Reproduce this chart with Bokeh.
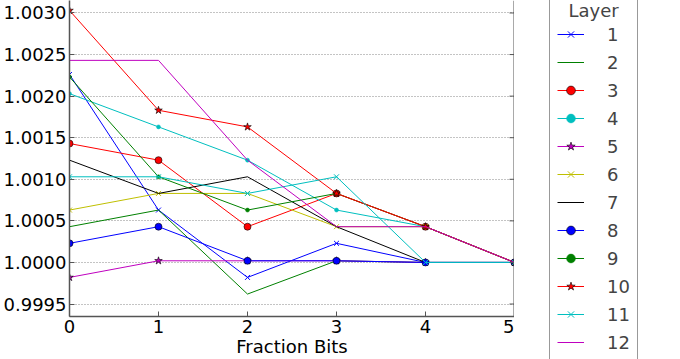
from bokeh.plotting import figure
from bokeh.layouts import row
from bokeh.models import (Range1d, FixedTicker, PrintfTickFormatter,
                          Legend, LegendItem, Span)
from bokeh.embed import file_html
from bokeh.resources import INLINE

# ---- data ----
fraction_bits = [0, 1, 2, 3, 4, 5]
layer_1 = [1.00226, 1.00063, 0.99982, 1.00023, 1.00000, 1.00000]
layer_2 = [1.00043, 1.00063, 0.99962, 1.00002, 1.00000, 1.00000]
layer_3 = [1.00143, 1.00123, 1.00043, 1.00083, 1.00043, 1.00000]
layer_4 = [1.00203, 1.00163, 1.00123, 1.00063, 1.00043, 1.00000]
layer_5 = [0.99982, 1.00002, 1.00002, 1.00002, 1.00000, 1.00000]
layer_6 = [1.00063, 1.00083, 1.00083, 1.00043, 1.00043, 1.00000]
layer_7 = [1.00123, 1.00083, 1.00103, 1.00043, 1.00000, 1.00000]
layer_8 = [1.00023, 1.00043, 1.00002, 1.00002, 1.00000, 1.00000]
layer_9 = [1.00223, 1.00103, 1.00063, 1.00083, 1.00043, 1.00000]
layer_10 = [1.00303, 1.00183, 1.00163, 1.00083, 1.00043, 1.00000]
layer_11 = [1.00103, 1.00103, 1.00083, 1.00103, 1.00000, 1.00000]
layer_12 = [1.00243, 1.00243, 1.00123, 1.00043, 1.00043, 1.00000]
layer_names = ["1", "2", "3", "4", "5", "6", "7", "8", "9", "10", "11", "12"]
y_ticks = [0.9995, 1.0000, 1.0005, 1.0010, 1.0015, 1.0020, 1.0025, 1.0030]
x_ticks = [0, 1, 2, 3, 4, 5]

series = [layer_1, layer_2, layer_3, layer_4, layer_5, layer_6,
          layer_7, layer_8, layer_9, layer_10, layer_11, layer_12]

# ---- styles ----
cycle = ["#0000ff", "#008000", "#ff0000", "#00bfbf", "#bf00bf", "#bfbf00", "#000000"]
markers = ["x", None, "circle", "dot", "star", "x", None, "circle", "dot", "star", "x", None]
FONT = "DejaVu Sans"
FS = "18px"
SPINE = "#555555"


def draw(fig, i, xs, ys):
    c = cycle[i % len(cycle)]
    rs = [fig.line(xs, ys, line_color=c, line_width=1)]
    m = markers[i]
    if m == "x":
        rs.append(fig.scatter(xs, ys, marker="x", size=7, line_color=c, line_width=1))
    elif m == "circle":
        rs.append(fig.scatter(xs, ys, marker="circle", size=7, fill_color=c,
                              line_color="black", line_width=0.6))
    elif m == "dot":
        rs.append(fig.scatter(xs, ys, marker="circle", size=4, fill_color=c,
                              line_color=c, line_width=0.5))
    elif m == "star":
        rs.append(fig.scatter(xs, ys, marker="star", size=8, fill_color=c,
                              line_color="black", line_width=0.6))
    return rs


# ---- main plot ----
p = figure(width=514, height=359, output_backend="svg", toolbar_location=None,
           x_range=Range1d(0, 5), y_range=Range1d(0.99935, 1.00315),
           min_border_top=0, min_border_bottom=0, min_border_right=0,
           min_border_left=68,
           background_fill_color="white", border_fill_color="white")
p.frame_align = False
p.outline_line_color = None
p.xgrid.visible = False
p.ygrid.ticker = FixedTicker(ticks=y_ticks)
p.ygrid.grid_line_color = "#888888"
p.ygrid.grid_line_dash = "1 2"
p.ygrid.grid_line_width = 1

for i, vals in enumerate(series):
    draw(p, i, fraction_bits, vals)

# right spine with inward ticks (half-dashes clipped at the frame edge)
p.add_layout(Span(location=x_ticks[-1], dimension="height",
                  line_color=SPINE, line_width=2))
p.scatter([x_ticks[-1]] * len(y_ticks), y_ticks, marker="dash", size=10,
          line_color=SPINE, line_width=1)

ya = p.yaxis[0]
ya.ticker = FixedTicker(ticks=y_ticks)
ya.formatter = PrintfTickFormatter(format="%.4f")
ya.major_label_text_font = FONT
ya.major_label_text_font_size = FS
ya.major_label_text_color = "black"
ya.major_tick_in = 5
ya.major_tick_out = 0
ya.major_label_standoff = 3
ya.minor_tick_line_color = None
ya.axis_line_color = SPINE
ya.axis_line_width = 1.5
ya.major_tick_line_color = SPINE

xa = p.xaxis[0]
xa.ticker = FixedTicker(ticks=x_ticks)
xa.major_label_text_font = FONT
xa.major_label_text_font_size = FS
xa.major_label_text_color = "black"
xa.major_tick_in = 5
xa.major_tick_out = 0
xa.major_label_standoff = 3
xa.minor_tick_line_color = None
xa.axis_line_color = SPINE
xa.axis_line_width = 1.5
xa.major_tick_line_color = SPINE
xa.axis_label = "Fraction Bits"
xa.axis_label_text_font = FONT
xa.axis_label_text_font_size = FS
xa.axis_label_text_font_style = "normal"
xa.axis_label_text_color = "black"
xa.axis_label_standoff = 0

# ---- legend panel (same series, drawn outside its visible range) ----
q = figure(width=166, height=359, output_backend="svg", toolbar_location=None,
           x_axis_location=None, y_axis_location=None,
           x_range=Range1d(100, 101), y_range=Range1d(100, 101),
           min_border=0, background_fill_color="white", border_fill_color="white")
q.frame_align = False
q.outline_line_color = None
q.grid.visible = False

items = []
for i, (vals, name) in enumerate(zip(series, layer_names)):
    rs = draw(q, i, fraction_bits, vals)
    items.append(LegendItem(label=name, renderers=rs))

legend = Legend(items=items, title="\u00a0\u00a0Layer", location=(35, -2),
                orientation="vertical",
                label_text_font=FONT, label_text_font_size=FS,
                title_text_font=FONT, title_text_font_size=FS,
                title_text_font_style="normal",
                glyph_width=27, glyph_height=22, label_height=22, label_standoff=23,
                spacing=6, padding=7, margin=0, title_standoff=2,
                border_line_color="#333333", border_line_width=1,
                background_fill_color="white", background_fill_alpha=1)
q.add_layout(legend, "center")

open("out.html", "w").write(file_html(row(p, q), INLINE))
